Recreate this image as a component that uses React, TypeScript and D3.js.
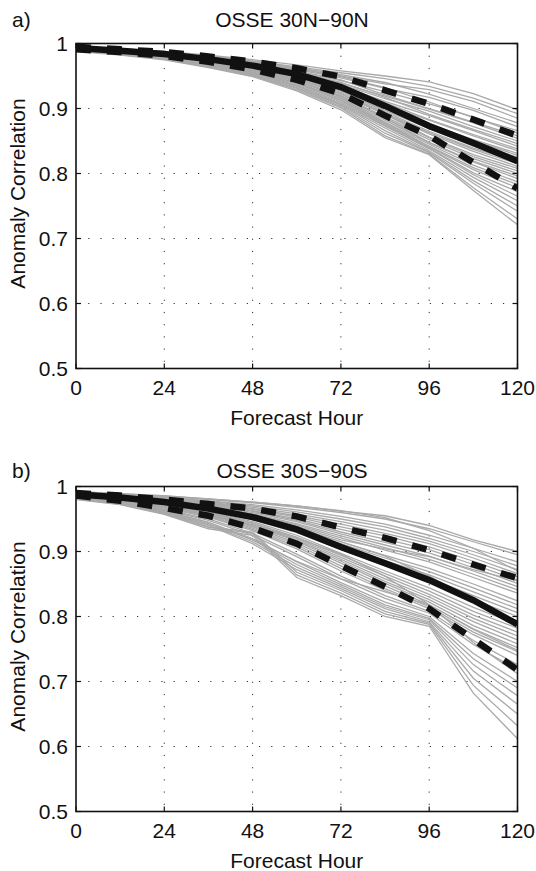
import React from 'react';
import * as d3 from 'd3';

const hours = [0, 12, 24, 36, 48, 60, 72, 84, 96, 108, 120];
const xTicks = [0, 24, 48, 72, 96, 120];
const xTickLabels = ['0', '24', '48', '72', '96', '120'];
const yTicks = [0.5, 0.6, 0.7, 0.8, 0.9, 1];
const yTickLabels = ['0.5', '0.6', '0.7', '0.8', '0.9', '1'];

// Panel a) OSSE 30N-90N
const nhMean = [0.993, 0.989, 0.984, 0.976, 0.966, 0.953, 0.933, 0.904, 0.873, 0.847, 0.819];
const nhUpper = [0.995, 0.991, 0.987, 0.980, 0.972, 0.962, 0.949, 0.928, 0.907, 0.883, 0.858];
const nhLower = [0.991, 0.987, 0.981, 0.972, 0.960, 0.944, 0.923, 0.889, 0.858, 0.817, 0.777];
const nhMembers = [
  [.995, .992, .988, .982, .975, .967, .958, .950, .941, .923, .898],
  [.995, .992, .988, .981, .973, .964, .955, .946, .934, .916, .892],
  [.994, .991, .987, .980, .971, .961, .950, .938, .929, .911, .885],
  [.995, .991, .987, .981, .973, .963, .952, .940, .922, .900, .878],
  [.994, .990, .986, .979, .970, .960, .947, .931, .917, .897, .872],
  [.994, .991, .986, .979, .972, .962, .949, .932, .910, .886, .866],
  [.994, .990, .986, .978, .969, .957, .943, .926, .907, .887, .862],
  [.993, .990, .985, .978, .969, .958, .944, .921, .900, .879, .858],
  [.994, .990, .985, .977, .968, .956, .939, .919, .899, .878, .854],
  [.993, .989, .985, .977, .967, .954, .937, .915, .896, .872, .850],
  [.993, .989, .984, .977, .968, .956, .940, .917, .891, .868, .846],
  [.993, .989, .984, .976, .966, .953, .935, .911, .889, .866, .842],
  [.993, .989, .984, .975, .965, .952, .936, .909, .883, .860, .838],
  [.992, .988, .983, .975, .965, .952, .933, .905, .882, .858, .835],
  [.993, .989, .984, .976, .966, .953, .932, .903, .876, .852, .831],
  [.992, .988, .983, .975, .964, .950, .931, .902, .875, .851, .828],
  [.993, .988, .983, .974, .963, .949, .928, .900, .872, .847, .825],
  [.992, .988, .982, .974, .963, .948, .927, .897, .869, .842, .821],
  [.992, .988, .982, .973, .962, .948, .928, .895, .865, .839, .818],
  [.992, .987, .982, .973, .961, .946, .925, .893, .863, .837, .815],
  [.992, .987, .981, .972, .961, .946, .923, .891, .861, .834, .811],
  [.991, .987, .981, .972, .960, .945, .922, .891, .856, .829, .808],
  [.992, .987, .981, .971, .959, .943, .920, .887, .855, .826, .804],
  [.991, .986, .980, .971, .959, .943, .919, .885, .852, .823, .800],
  [.991, .986, .980, .970, .958, .942, .918, .885, .848, .819, .796],
  [.991, .986, .979, .970, .957, .940, .916, .882, .847, .818, .792],
  [.990, .985, .979, .969, .957, .940, .915, .879, .845, .813, .787],
  [.991, .986, .979, .969, .956, .939, .913, .878, .842, .809, .783],
  [.990, .985, .978, .968, .955, .938, .912, .876, .841, .806, .778],
  [.990, .985, .978, .968, .954, .936, .910, .874, .839, .801, .772],
  [.990, .984, .978, .967, .954, .935, .908, .873, .838, .798, .765],
  [.990, .984, .977, .967, .953, .934, .906, .870, .835, .794, .758],
  [.989, .984, .977, .966, .952, .932, .905, .866, .833, .789, .750],
  [.989, .983, .976, .965, .951, .931, .903, .862, .832, .785, .742],
  [.989, .983, .976, .964, .950, .929, .901, .858, .830, .778, .730],
  [.988, .982, .975, .963, .949, .927, .898, .855, .829, .774, .721],
];

// Panel b) OSSE 30S-90S
const shMean = [0.988, 0.983, 0.976, 0.966, 0.953, 0.934, 0.907, 0.882, 0.856, 0.825, 0.788];
const shUpper = [0.990, 0.986, 0.980, 0.973, 0.966, 0.954, 0.937, 0.921, 0.902, 0.880, 0.859];
const shLower = [0.986, 0.978, 0.967, 0.955, 0.936, 0.912, 0.878, 0.846, 0.812, 0.765, 0.718];
const shMembers = [
  [.992, .989, .986, .981, .976, .970, .962, .955, .940, .918, .900],
  [.992, .989, .985, .980, .975, .968, .960, .950, .935, .915, .895],
  [.991, .988, .985, .981, .976, .970, .963, .952, .932, .905, .870],
  [.991, .988, .984, .978, .972, .964, .954, .942, .925, .905, .884],
  [.991, .987, .983, .977, .970, .961, .950, .938, .920, .900, .878],
  [.990, .987, .982, .976, .968, .958, .946, .933, .916, .895, .872],
  [.990, .986, .982, .975, .966, .955, .942, .928, .912, .890, .866],
  [.990, .986, .981, .974, .965, .953, .938, .924, .907, .885, .861],
  [.990, .986, .980, .973, .963, .950, .934, .919, .903, .880, .856],
  [.989, .985, .980, .972, .962, .948, .930, .914, .898, .875, .851],
  [.989, .985, .979, .971, .960, .946, .927, .910, .893, .870, .846],
  [.989, .984, .978, .970, .958, .943, .924, .906, .888, .865, .841],
  [.989, .984, .978, .969, .957, .941, .921, .902, .884, .860, .836],
  [.988, .984, .977, .968, .955, .939, .918, .904, .892, .872, .855],
  [.988, .983, .977, .967, .954, .937, .915, .894, .874, .850, .824],
  [.988, .983, .976, .966, .953, .935, .912, .890, .869, .844, .818],
  [.988, .983, .976, .966, .951, .933, .909, .886, .864, .838, .812],
  [.987, .982, .975, .965, .950, .931, .906, .882, .859, .832, .806],
  [.987, .982, .975, .964, .949, .929, .903, .878, .854, .826, .800],
  [.987, .982, .976, .967, .954, .936, .915, .893, .862, .825, .790],
  [.987, .981, .973, .962, .946, .925, .897, .870, .844, .814, .788],
  [.986, .981, .973, .961, .944, .922, .894, .866, .839, .808, .782],
  [.986, .980, .972, .960, .943, .920, .891, .862, .834, .802, .776],
  [.986, .980, .971, .959, .941, .918, .888, .858, .830, .797, .770],
  [.986, .980, .971, .958, .940, .916, .885, .854, .826, .792, .764],
  [.985, .979, .970, .957, .938, .913, .882, .851, .822, .786, .758],
  [.985, .979, .969, .956, .936, .910, .878, .847, .818, .781, .752],
  [.985, .978, .968, .954, .934, .907, .874, .843, .815, .776, .746],
  [.984, .978, .967, .953, .932, .904, .870, .840, .812, .772, .740],
  [.984, .976, .963, .945, .918, .885, .858, .838, .818, .780, .748],
  [.984, .977, .965, .950, .928, .896, .862, .832, .808, .763, .726],
  [.983, .976, .964, .948, .925, .892, .858, .828, .805, .757, .718],
  [.983, .977, .967, .955, .940, .921, .896, .862, .818, .760, .712],
  [.983, .975, .962, .945, .920, .884, .852, .822, .800, .743, .700],
  [.982, .975, .961, .943, .918, .880, .849, .818, .797, .735, .690],
  [.982, .974, .960, .941, .915, .876, .846, .815, .795, .726, .678],
  [.982, .974, .960, .940, .912, .872, .843, .812, .792, .716, .665],
  [.981, .973, .959, .938, .930, .868, .840, .808, .790, .705, .650],
  [.981, .973, .958, .937, .928, .864, .836, .804, .788, .694, .632],
  [.980, .972, .957, .935, .925, .860, .832, .800, .785, .682, .612],
];

const FONT = '"Liberation Sans", Arial, Helvetica, sans-serif';
const FS = 21;
const X0 = 76;
const X1 = 517.5;
const PH = 325;

function HText({ x, y, anchor = 'middle', children }: any) {
  return (
    <text x={x} y={y} textAnchor={anchor} fontFamily={FONT} fontSize={FS} fill="#111">
      {children}
    </text>
  );
}

function Panel({ id, top, letter, title, titleY, members, mean, upper, lower }: any) {
  const x = d3.scaleLinear().domain([0, 120]).range([X0, X1]);
  const y = d3.scaleLinear().domain([0.5, 1]).range([top + PH, top]);
  const line = d3
    .line<number>()
    .x((_, i) => x(hours[i]))
    .y((d) => y(d));
  const bottom = top + PH;
  const tick = 5;
  return (
    <g>
      <defs>
        <clipPath id={`clip-${id}`}>
          <rect x={X0} y={top} width={X1 - X0} height={PH} />
        </clipPath>
      </defs>
      {xTicks.slice(1, -1).map((t) => (
        <line key={`gx${t}`} x1={x(t)} x2={x(t)} y1={top} y2={bottom}
          stroke="#333" strokeWidth={1} strokeDasharray="1.2 11" />
      ))}
      {yTicks.slice(1, -1).map((t) => (
        <line key={`gy${t}`} x1={X0} x2={X1} y1={y(t)} y2={y(t)}
          stroke="#333" strokeWidth={1} strokeDasharray="1.2 11" />
      ))}
      <g clipPath={`url(#clip-${id})`}>
        {members.map((m: number[], i: number) => (
          <path key={i} d={line(m) as string} fill="none" stroke="#a9a9a9" strokeWidth={1.3} />
        ))}
        <path d={line(upper) as string} fill="none" stroke="#111" strokeWidth={6.5} strokeDasharray="15 16" />
        <path d={line(lower) as string} fill="none" stroke="#111" strokeWidth={6.5} strokeDasharray="15 16" />
        <path d={line(mean) as string} fill="none" stroke="#111" strokeWidth={6.5} />
      </g>
      <rect x={X0} y={top} width={X1 - X0} height={PH} fill="none" stroke="#111" strokeWidth={1.6} />
      {xTicks.map((t) => (
        <g key={`tx${t}`}>
          <line x1={x(t)} x2={x(t)} y1={bottom} y2={bottom - tick} stroke="#111" strokeWidth={1.2} />
          <line x1={x(t)} x2={x(t)} y1={top} y2={top + tick} stroke="#111" strokeWidth={1.2} />
        </g>
      ))}
      {yTicks.map((t) => (
        <g key={`ty${t}`}>
          <line x1={X0} x2={X0 + tick} y1={y(t)} y2={y(t)} stroke="#111" strokeWidth={1.2} />
          <line x1={X1} x2={X1 - tick} y1={y(t)} y2={y(t)} stroke="#111" strokeWidth={1.2} />
        </g>
      ))}
      {xTicks.map((t, i) => (
        <HText key={`lx${t}`} x={x(t)} y={bottom + 26}>{xTickLabels[i]}</HText>
      ))}
      {yTicks.map((t, i) => (
        <HText key={`ly${t}`} x={68} y={y(t) + 7.5} anchor="end">{yTickLabels[i]}</HText>
      ))}
      <HText x={(X0 + X1) / 2} y={bottom + 56}>Forecast Hour</HText>
      <text
        transform={`translate(25,${top + 150}) rotate(-90)`}
        textAnchor="middle"
        fontFamily={FONT}
        fontSize={FS}
        fill="#111"
      >
        Anomaly Correlation
      </text>
      <HText x={292} y={titleY}>{title}</HText>
      <HText x={12} y={titleY} anchor="start">{letter}</HText>
    </g>
  );
}

export default function App() {
  return (
    <svg
      width={536}
      height={871}
      style={{ position: 'absolute', left: 0, top: 0, background: '#fff' }}
    >
      <rect width={536} height={871} fill="#fff" />
      <Panel id="a" top={43.5} letter="a)" title="OSSE 30N−90N" titleY={27}
        members={nhMembers} mean={nhMean} upper={nhUpper} lower={nhLower} />
      <Panel id="b" top={486.5} letter="b)" title="OSSE 30S−90S" titleY={478}
        members={shMembers} mean={shMean} upper={shUpper} lower={shLower} />
    </svg>
  );
}
